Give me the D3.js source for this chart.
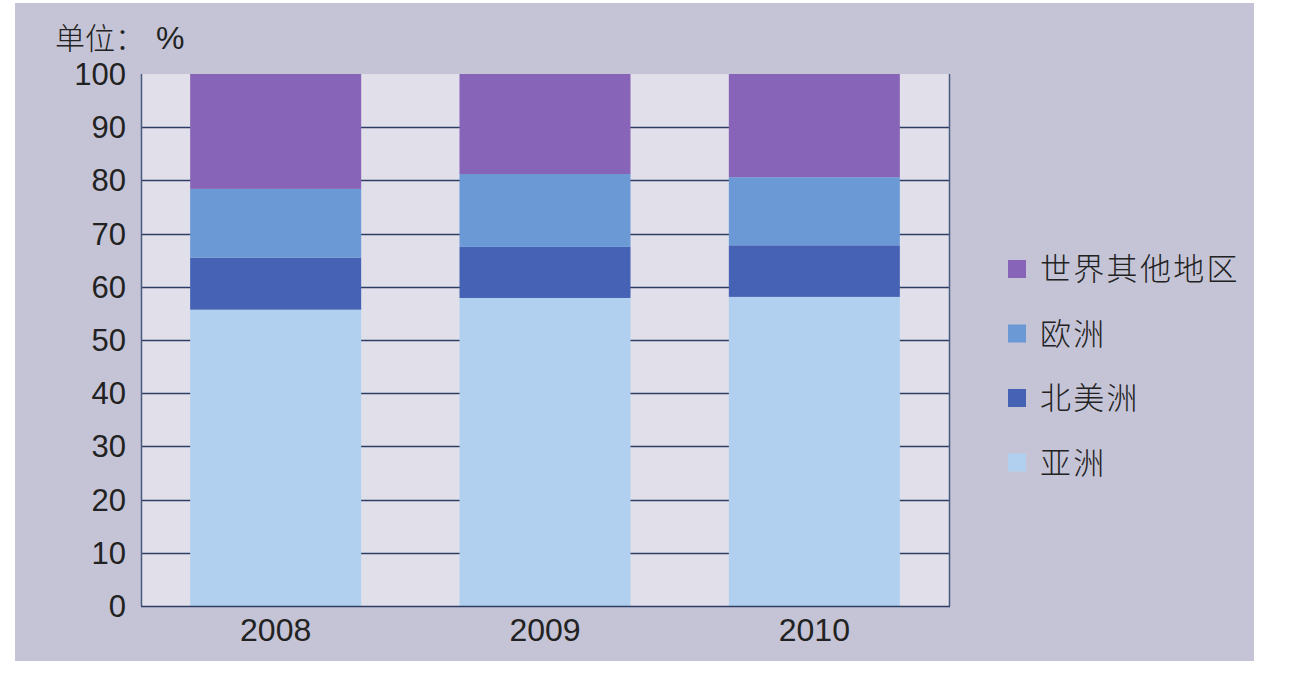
<!DOCTYPE html>
<html lang="zh">
<head>
<meta charset="UTF-8">
<title>chart</title>
<script src="https://cdn.jsdelivr.net/npm/d3@7"></script>
<style>
    body { margin: 0; background: #ffffff; }
    text { font-family: "Liberation Sans", "Noto Sans CJK SC", sans-serif; fill: #222222; }
    .cjk { font-family: "Noto Sans CJK SC", sans-serif; font-weight: 300; }
</style>
</head>
<body>
<div class="chartBox"></div>
<script>
    // 数据
    const years = ["2008", "2009", "2010"];
    const asia = [55.7, 57.9, 58.1];
    const northAmerica = [9.8, 9.6, 9.7];
    const europe = [12.9, 13.7, 12.8];
    const restOfWorld = [21.6, 18.8, 19.4];
    const seriesNames = ["亚洲", "北美洲", "欧洲", "世界其他地区"];
    const seriesColors = ["#b1d0ef", "#4562b5", "#6b99d5", "#8864b8"];
    const yTicks = [0, 10, 20, 30, 40, 50, 60, 70, 80, 90, 100];

    const width = 1301, height = 680;
    const svg = d3.select(".chartBox").append("svg")
        .attr("width", width).attr("height", height);

    // 背景
    svg.append("rect").attr("x", 15).attr("y", 3).attr("width", 1239).attr("height", 658)
        .attr("fill", "#c5c4d6");

    const plotLeft = 141, plotRight = 949, plotTop = 74, plotBottom = 606;
    const x = d3.scaleBand().domain(years).range([plotLeft, plotRight]).paddingInner(0.365).paddingOuter(0.1825);
    const y = d3.scaleLinear().domain([0, 100]).range([plotBottom, plotTop]);

    svg.append("rect").attr("x", plotLeft).attr("y", plotTop)
        .attr("width", plotRight - plotLeft).attr("height", plotBottom - plotTop)
        .attr("fill", "#e1e0ea");

    // 网格线
    svg.append("g").selectAll("line")
        .data(yTicks.filter(d => d > 0 && d < 100))
        .join("line")
        .attr("x1", plotLeft).attr("x2", plotRight)
        .attr("y1", d => Math.round(y(d)) + 0.5).attr("y2", d => Math.round(y(d)) + 0.5)
        .attr("stroke", "#2e3d66").attr("stroke-width", 1.5);

    // 堆叠
    const table = years.map((yr, i) => ({
        year: yr, "亚洲": asia[i], "北美洲": northAmerica[i], "欧洲": europe[i], "世界其他地区": restOfWorld[i]
    }));
    const stacked = d3.stack().keys(seriesNames)(table);
    const color = d3.scaleOrdinal().domain(seriesNames).range(seriesColors);

    svg.append("g").selectAll("g")
        .data(stacked)
        .join("g")
        .attr("fill", d => color(d.key))
        .selectAll("rect")
        .data(d => d)
        .join("rect")
        .attr("x", d => x(d.data.year))
        .attr("width", x.bandwidth())
        .attr("y", d => y(d[1]))
        .attr("height", d => y(d[0]) - y(d[1]));

    // 轴线
    const axisColor = "#4a5a80";
    svg.append("line").attr("x1", plotLeft + 0.5).attr("x2", plotLeft + 0.5).attr("y1", plotTop).attr("y2", plotBottom)
        .attr("stroke", axisColor).attr("stroke-width", 1.5);
    svg.append("line").attr("x1", plotRight + 0.5).attr("x2", plotRight + 0.5).attr("y1", plotTop).attr("y2", plotBottom)
        .attr("stroke", axisColor).attr("stroke-width", 1.5);
    svg.append("line").attr("x1", plotLeft).attr("x2", plotRight + 1).attr("y1", plotBottom + 0.5).attr("y2", plotBottom + 0.5)
        .attr("stroke", "#2e3d66").attr("stroke-width", 1.5);

    // y 轴刻度
    svg.append("g").selectAll("text")
        .data(yTicks)
        .join("text")
        .attr("x", 126)
        .attr("y", d => y(d) + 11)
        .attr("text-anchor", "end")
        .style("font-size", "31px")
        .text(d => d);

    // x 轴刻度
    svg.append("g").selectAll("text")
        .data(years)
        .join("text")
        .attr("x", d => x(d) + x.bandwidth() / 2)
        .attr("y", 641)
        .attr("text-anchor", "middle")
        .style("font-size", "32px")
        .text(d => d);

    // 单位
    const unit = svg.append("text").attr("x", 55).attr("y", 49).attr("class", "cjk")
        .style("font-size", "30px");
    unit.append("tspan").text("单位：");
    unit.append("tspan").attr("x", 156)
        .style("font-family", "'Liberation Sans', sans-serif").style("font-size", "32px")
        .text("%");

    // 图例
    const legendItems = seriesNames.slice().reverse();
    const legend = svg.append("g").selectAll("g")
        .data(legendItems)
        .join("g")
        .attr("transform", (d, i) => `translate(1008, ${260 + i * 64.5})`);
    legend.append("rect").attr("width", 18).attr("height", 18).attr("fill", d => color(d));
    legend.append("text").attr("class", "cjk").attr("x", 32).attr("y", 20)
        .style("font-size", "31px").style("letter-spacing", "2.3px")
        .text(d => d);
</script>
</body>
</html>
